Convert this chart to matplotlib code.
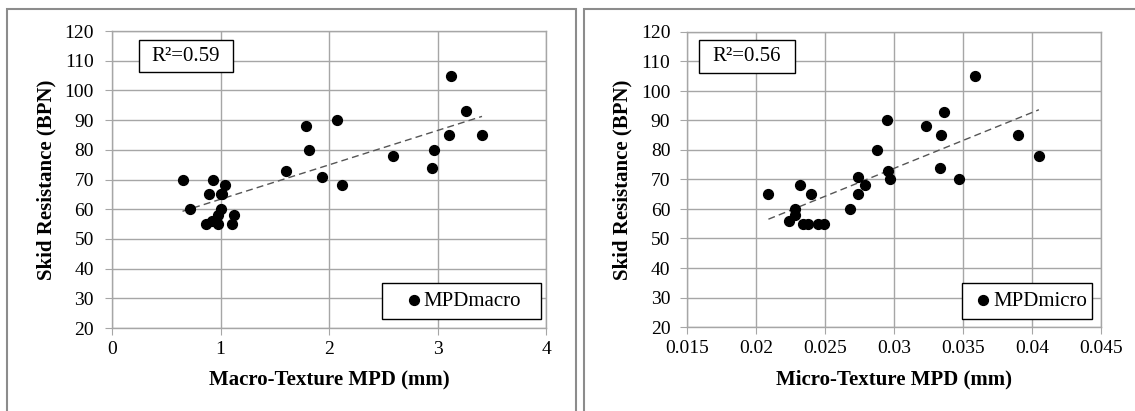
import numpy as np
import matplotlib.pyplot as plt
from matplotlib.patches import Rectangle
from matplotlib.collections import PathCollection
from matplotlib.legend_handler import HandlerPathCollection

# skid resistance vs macro-texture MPD
macro_mpd = [0.65, 0.72, 0.87, 0.89, 0.93, 0.92, 0.98, 0.98, 1.00, 1.00, 1.01, 1.04, 1.12, 1.11,
             1.60, 1.79, 1.82, 1.94, 2.07, 2.12, 2.59, 2.95, 2.97, 3.11, 3.12, 3.26, 3.41]
macro_bpn = [70, 60, 55, 65, 70, 56, 55, 58, 60, 65, 65, 68, 58, 55,
             73, 88, 80, 71, 90, 68, 78, 74, 80, 85, 105, 93, 85]

# skid resistance vs micro-texture MPD
micro_mpd = [0.0209, 0.0224, 0.0228, 0.0228, 0.0232, 0.0234, 0.0238, 0.0240, 0.0245, 0.0249,
             0.0268, 0.0274, 0.0274, 0.0279, 0.0288, 0.0295, 0.0296, 0.0297, 0.0323, 0.0333,
             0.0334, 0.0336, 0.0347, 0.0359, 0.0390, 0.0405]
micro_bpn = [65, 56, 60, 58, 68, 55, 55, 65, 55, 55,
             60, 71, 65, 68, 80, 90, 73, 70, 88, 74,
             85, 93, 70, 105, 85, 78]

r2_labels = ['R\u00b2=0.59', 'R\u00b2=0.56']
x_labels = ['Macro-Texture MPD (mm)', 'Micro-Texture MPD (mm)']
legend_labels = ['MPDmacro', 'MPDmicro']
y_label = 'Skid Resistance (BPN)'

plt.rcParams['font.family'] = 'Liberation Serif'
W, H = 1135, 411
fig = plt.figure(figsize=(W / 100, H / 100), dpi=100)


def px(x0, y0, x1, y1):
    # pixel box (top-left origin) -> figure fraction [left, bottom, width, height]
    return [x0 / W, 1 - y1 / H, (x1 - x0) / W, (y1 - y0) / H]


grid_c = '#a6a6a6'
frame_c = '#8c8c8c'

# panel frames
for (x0, x1) in [(7, 576), (584, 1140)]:
    fig.patches.append(Rectangle((x0 / W, -0.05), (x1 - x0) / W, 1.05 - 9 / H,
                                 transform=fig.transFigure, fill=False,
                                 edgecolor=frame_c, linewidth=1.5))

axes_px = [(112, 31, 546, 328), (687, 32, 1101, 327)]
legend_px = [(382, 541, 319), (962, 1092, 319)]
# handle length, text pad, marker shift for each legend
legend_fit = [(1.4, 0.2, 0.9), (1.0, 0.1, 0.22)]
ytick_pad = [8, 7]
r2_boxes = [(139, 40, 233, 72), (699, 40, 795, 73)]
xlims = [(0, 4), (0.015, 0.045)]
xticks = [np.arange(0, 4.01, 1), np.arange(0.015, 0.0451, 0.005)]
xticklabels = [['0', '1', '2', '3', '4'],
               ['0.015', '0.02', '0.025', '0.03', '0.035', '0.04', '0.045']]
datasets = [(macro_mpd, macro_bpn), (micro_mpd, micro_bpn)]

for i in range(2):
    ax = fig.add_axes(px(*axes_px[i]))
    xs, ys = np.array(datasets[i][0]), np.array(datasets[i][1])
    ax.scatter(xs, ys, s=50, color='black', zorder=3, label=legend_labels[i])
    k, b = np.polyfit(xs, ys, 1)
    xl = np.array([xs.min(), xs.max()])
    ax.plot(xl, k * xl + b, color='#555555', linestyle=(0, (5, 3)), linewidth=1.0, zorder=2)

    ax.set_xlim(*xlims[i])
    ax.set_ylim(20, 120)
    ax.set_xticks(xticks[i])
    ax.set_xticklabels(xticklabels[i])
    ax.set_yticks(np.arange(20, 121, 10))
    ax.grid(True, color=grid_c, linewidth=1.0)
    ax.set_axisbelow(True)
    for sp in ax.spines.values():
        sp.set_color(grid_c)
        sp.set_linewidth(1.0)
    ax.tick_params(direction='out', length=5, color=grid_c, labelsize=14)
    ax.tick_params(axis='x', pad=4)
    ax.tick_params(axis='y', pad=ytick_pad[i])
    ax.set_xlabel(x_labels[i], fontsize=15, fontweight='bold', labelpad=9)
    ax.set_ylabel(y_label, fontsize=15, fontweight='bold', labelpad=6)

    # legend box position in axes fraction
    ax0, ay0, ax1, ay1 = axes_px[i]
    lx0, lx1, ly1 = legend_px[i]
    bb = ((lx0 - ax0) / (ax1 - ax0), (ay1 - ly1) / (ay1 - ay0), (lx1 - lx0) / (ax1 - ax0), 0)
    hl, htp, xpad = legend_fit[i]
    leg = ax.legend(loc='lower left', bbox_to_anchor=bb, mode='expand',
                    borderaxespad=0, fancybox=False, framealpha=1, edgecolor='black',
                    fontsize=15, handlelength=hl, handletextpad=htp, borderpad=0.4,
                    handler_map={PathCollection: HandlerPathCollection(xpad=xpad)})
    leg.get_frame().set_linewidth(1.0)

    x0, y0, x1, y1 = r2_boxes[i]
    fig.patches.append(Rectangle((x0 / W, 1 - y1 / H), (x1 - x0) / W, (y1 - y0) / H,
                                 transform=fig.transFigure, facecolor='white',
                                 edgecolor='black', linewidth=1.0, zorder=5))
    fig.text((x0 + x1) / 2 / W, 1 - (y0 + y1) / 2 / H, r2_labels[i], fontsize=15,
             ha='center', va='center', zorder=6)

fig.savefig('out.png', dpi=100)
